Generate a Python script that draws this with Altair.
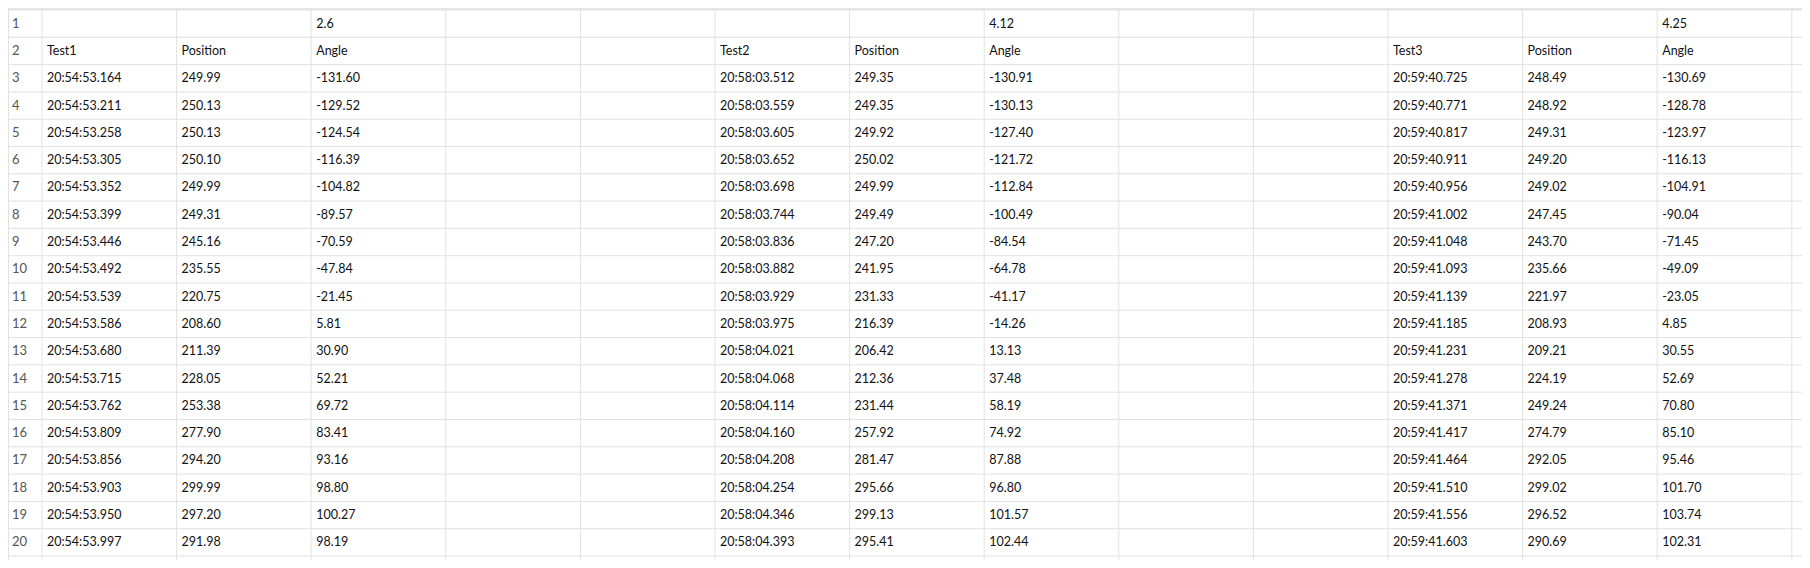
import altair as alt
import pandas as pd

# spreadsheet screenshot: three test runs, each with time / position / angle

speeds = ["2.6", "4.12", "4.25"]
test_names = ["Test1", "Test2", "Test3"]
headers = ["Position", "Angle"]

times1 = ["20:54:53.164", "20:54:53.211", "20:54:53.258", "20:54:53.305", "20:54:53.352", "20:54:53.399",
          "20:54:53.446", "20:54:53.492", "20:54:53.539", "20:54:53.586", "20:54:53.680", "20:54:53.715",
          "20:54:53.762", "20:54:53.809", "20:54:53.856", "20:54:53.903", "20:54:53.950", "20:54:53.997"]
pos1 = ["249.99", "250.13", "250.13", "250.10", "249.99", "249.31", "245.16", "235.55", "220.75",
        "208.60", "211.39", "228.05", "253.38", "277.90", "294.20", "299.99", "297.20", "291.98"]
ang1 = ["-131.60", "-129.52", "-124.54", "-116.39", "-104.82", "-89.57", "-70.59", "-47.84", "-21.45",
        "5.81", "30.90", "52.21", "69.72", "83.41", "93.16", "98.80", "100.27", "98.19"]

times2 = ["20:58:03.512", "20:58:03.559", "20:58:03.605", "20:58:03.652", "20:58:03.698", "20:58:03.744",
          "20:58:03.836", "20:58:03.882", "20:58:03.929", "20:58:03.975", "20:58:04.021", "20:58:04.068",
          "20:58:04.114", "20:58:04.160", "20:58:04.208", "20:58:04.254", "20:58:04.346", "20:58:04.393"]
pos2 = ["249.35", "249.35", "249.92", "250.02", "249.99", "249.49", "247.20", "241.95", "231.33",
        "216.39", "206.42", "212.36", "231.44", "257.92", "281.47", "295.66", "299.13", "295.41"]
ang2 = ["-130.91", "-130.13", "-127.40", "-121.72", "-112.84", "-100.49", "-84.54", "-64.78", "-41.17",
        "-14.26", "13.13", "37.48", "58.19", "74.92", "87.88", "96.80", "101.57", "102.44"]

times3 = ["20:59:40.725", "20:59:40.771", "20:59:40.817", "20:59:40.911", "20:59:40.956", "20:59:41.002",
          "20:59:41.048", "20:59:41.093", "20:59:41.139", "20:59:41.185", "20:59:41.231", "20:59:41.278",
          "20:59:41.371", "20:59:41.417", "20:59:41.464", "20:59:41.510", "20:59:41.556", "20:59:41.603"]
pos3 = ["248.49", "248.92", "249.31", "249.20", "249.02", "247.45", "243.70", "235.66", "221.97",
        "208.93", "209.21", "224.19", "249.24", "274.79", "292.05", "299.02", "296.52", "290.69"]
ang3 = ["-130.69", "-128.78", "-123.97", "-116.13", "-104.91", "-90.04", "-71.45", "-49.09", "-23.05",
        "4.85", "30.55", "52.69", "70.80", "85.10", "95.46", "101.70", "103.74", "102.31"]

blocks = [(times1, pos1, ang1), (times2, pos2, ang2), (times3, pos3, ang3)]

W, H = 1794, 552
COLW, ROWH, HDR, TOP = 134.6, 27.3, 34, 2

cells = []
for b, (t, p, a) in enumerate(blocks):
    c0 = b * 5
    cells.append({"c": c0 + 2, "r": 1, "txt": speeds[b]})
    cells.append({"c": c0, "r": 2, "txt": test_names[b]})
    cells.append({"c": c0 + 1, "r": 2, "txt": headers[0]})
    cells.append({"c": c0 + 2, "r": 2, "txt": headers[1]})
    for i in range(len(t)):
        cells.append({"c": c0, "r": i + 3, "txt": t[i]})
        cells.append({"c": c0 + 1, "r": i + 3, "txt": p[i]})
        cells.append({"c": c0 + 2, "r": i + 3, "txt": a[i]})
df = pd.DataFrame(cells)
df["x"] = HDR + df["c"] * COLW + 5
df["y"] = TOP + (df["r"] - 0.5) * ROWH

rows = pd.DataFrame({"r": list(range(1, 21))})
rows["x"] = 4
rows["y"] = TOP + (rows["r"] - 0.5) * ROWH
rows["txt"] = rows["r"].astype(str)

vlines = pd.DataFrame({"x": [HDR + k * COLW for k in range(14)] + [0.5]})
hlines = pd.DataFrame({"y": [TOP + k * ROWH for k in range(21)]})

xs = alt.Scale(domain=[0, W], range=[0, W])
ys = alt.Scale(domain=[0, H], range=[0, H])

top_band = alt.Chart(pd.DataFrame({"x": [0], "x2": [W], "y": [0], "y2": [TOP]})).mark_rect(
    color="#e6e6e6").encode(x=alt.X("x:Q", scale=xs, axis=None), x2="x2", y=alt.Y("y:Q", scale=ys, axis=None), y2="y2")

vr = alt.Chart(vlines).mark_rule(color="#e2e2e2", strokeWidth=1).encode(
    x=alt.X("x:Q", scale=xs, axis=None), y=alt.value(0), y2=alt.value(H))
hr = alt.Chart(hlines).mark_rule(color="#e2e2e2", strokeWidth=1).encode(
    y=alt.Y("y:Q", scale=ys, axis=None), x=alt.value(0), x2=alt.value(W))

txt = alt.Chart(df).mark_text(align="left", baseline="middle", font="Lato", fontSize=12.5, color="#111").encode(
    x=alt.X("x:Q", scale=xs, axis=None), y=alt.Y("y:Q", scale=ys, axis=None), text="txt:N")
rtxt = alt.Chart(rows).mark_text(align="left", baseline="middle", font="Lato", fontSize=13, color="#555").encode(
    x=alt.X("x:Q", scale=xs, axis=None), y=alt.Y("y:Q", scale=ys, axis=None), text="txt:N")

chart = alt.layer(top_band, vr, hr, txt, rtxt).properties(
    width=W, height=H, padding=0, autosize="none"
).configure_view(stroke=None)

chart.save("out.html", embed_options={"renderer": "svg", "actions": False})
